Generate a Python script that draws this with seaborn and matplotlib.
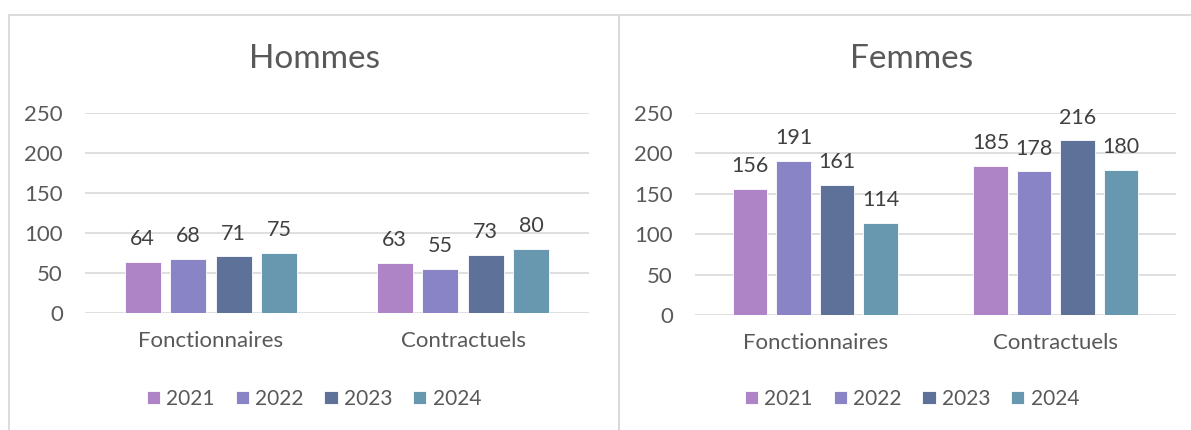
import matplotlib
matplotlib.use("Agg")
import matplotlib.pyplot as plt
import seaborn as sns
import pandas as pd
from matplotlib.lines import Line2D

# ---- data ----
categories = ["Fonctionnaires", "Contractuels"]
years = ["2021", "2022", "2023", "2024"]
hommes_fonctionnaires = [64, 68, 71, 75]
hommes_contractuels = [63, 55, 73, 80]
femmes_fonctionnaires = [156, 191, 161, 114]
femmes_contractuels = [185, 178, 216, 180]
y_ticks = [0, 50, 100, 150, 200, 250]
colors = ["#ae84c6", "#8884c6", "#5e7198", "#6898b0"]


def long_df(fonc, contr):
    rows = []
    for cat, vals in zip(categories, [fonc, contr]):
        for yr, v in zip(years, vals):
            rows.append({"cat": cat, "year": yr, "val": v})
    return pd.DataFrame(rows)


sns.set_theme(style="white")
plt.rcParams["font.family"] = ["Lato", "DejaVu Sans"]

W, H = 1191, 430
fig = plt.figure(figsize=(W / 100, H / 100), dpi=100)
fig.patch.set_facecolor("white")

panels = [
    ("Hommes", long_df(hommes_fonctionnaires, hommes_contractuels),
     (85, 113, 589, 313), 314),
    ("Femmes", long_df(femmes_fonctionnaires, femmes_contractuels),
     (695, 113, 1176, 315), 912),
]

grid_c = "#d9d9d9"
txt_c = "#595959"
lab_c = "#404040"

for title, df, (x0, ytop, x1, ybot), cx in panels:
    ax = fig.add_axes([x0 / W, 1 - ybot / H, (x1 - x0) / W, (ybot - ytop) / H])
    sns.barplot(data=df, x="cat", y="val", hue="year", palette=colors,
                width=0.724, gap=0.21, ax=ax, edgecolor="white", linewidth=0.6,
                saturation=1)
    ax.set_ylim(0, 250)
    ax.set_xlim(-0.5, 1.5)
    ax.set_yticks(y_ticks)
    ax.yaxis.grid(True, color=grid_c, linewidth=1.2)
    ax.set_axisbelow(True)
    for s in ax.spines.values():
        s.set_visible(False)
    ax.set_xlabel("")
    ax.set_ylabel("")
    ax.tick_params(axis="both", length=0, labelsize=16, colors=txt_c)
    ax.tick_params(axis="y", pad=16)
    ax.tick_params(axis="x", pad=13)
    for cont in ax.containers:
        ax.bar_label(cont, fmt="%d", padding=9, fontsize=15.5, color=lab_c)
    handles, labels = ax.get_legend_handles_labels()
    if ax.get_legend() is not None:
        ax.get_legend().remove()
    fig.legend(handles, labels, loc="center", bbox_to_anchor=(cx / W, 1 - 399 / H),
               ncol=4, frameon=False, fontsize=15, labelcolor=txt_c,
               handlelength=0.63, handleheight=0.63, handletextpad=0.3,
               columnspacing=1.0)
    fig.text(cx / W, 1 - 59 / H, title, ha="center", va="center",
             fontsize=24, color=txt_c)

# panel borders
bc = "#d9d9d9"
fig.add_artist(Line2D([9 / W, 1.0], [1 - 15 / H, 1 - 15 / H], color=bc, lw=1.3,
                      transform=fig.transFigure))
fig.add_artist(Line2D([9 / W, 9 / W], [0, 1 - 15 / H], color=bc, lw=1.3,
                      transform=fig.transFigure))
fig.add_artist(Line2D([619 / W, 619 / W], [0, 1 - 15 / H], color=bc, lw=1.5,
                      transform=fig.transFigure))

fig.savefig("out.png", dpi=100)
